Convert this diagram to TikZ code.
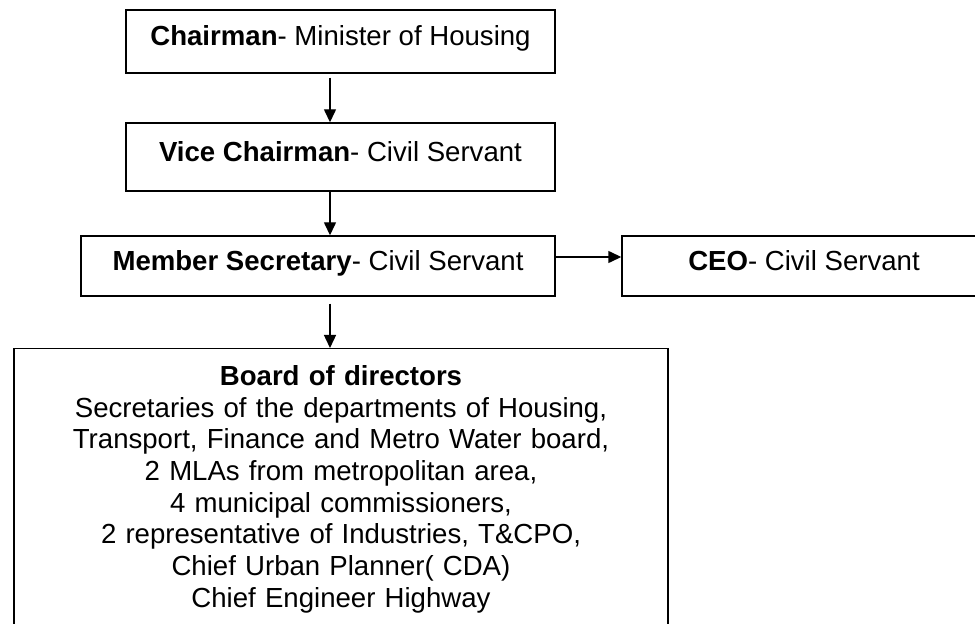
\documentclass[tikz,border=0pt]{standalone}
\usepackage{fontspec}
\setmainfont{Liberation Sans}
\usetikzlibrary{arrows.meta}

\begin{document}
\begin{tikzpicture}[scale=1,
	casella/.style={draw,line width=0.8pt,inner sep=0pt,font=\fontsize{15.7}{18}\selectfont},
	riga/.style={casella,text height=0.75em,text depth=0.25em},
	freccia/.style={line width=0.8pt,-{Triangle[length=0.26cm,width=0.24cm]}}]
	% Area della figura
	\useasboundingbox (0,0) rectangle (19.5,12.46);

	% Caselle in alto
	\node[riga,minimum width=8.58cm,minimum height=1.26cm] (chairman) at (6.81,11.63) {\textbf{Chairman}- Minister of Housing};
	\node[riga,minimum width=8.58cm,minimum height=1.36cm] (vice) at (6.81,9.32) {\textbf{Vice Chairman}- Civil Servant};
	\node[riga,minimum width=9.48cm,minimum height=1.2cm] (member) at (6.36,7.14) {\textbf{Member Secretary}- Civil Servant};
	\node[riga,minimum width=7.28cm,minimum height=1.2cm] (ceo) at (16.08,7.14) {\textbf{CEO}- Civil Servant};

	% Consiglio (tagliato in basso)
	\node[casella,anchor=north,text width=13.08cm,align=center,inner ysep=0.34cm] (board) at (6.82,5.50)
	{\textbf{Board of directors}\\
	Secretaries of the departments of Housing,\\
	Transport, Finance and Metro Water board,\\
	2 MLAs from metropolitan area,\\
	4 municipal commissioners,\\
	2 representative of Industries, T\&CPO,\\
	Chief Urban Planner( CDA)\\
	Chief Engineer Highway};

	% Frecce
	\coordinate (asse) at (6.60,0);
	\draw[freccia,shorten <=0.08cm] (chairman.south -| asse) -- (vice.north -| asse);
	\draw[freccia] (vice.south -| asse) -- (member.north -| asse);
	\draw[freccia,shorten <=0.14cm] (member.south -| asse) -- (board.north -| asse);
	\draw[freccia] ([yshift=0.18cm]member.east) -- ([yshift=0.18cm]ceo.west);

\end{tikzpicture}
\end{document}
